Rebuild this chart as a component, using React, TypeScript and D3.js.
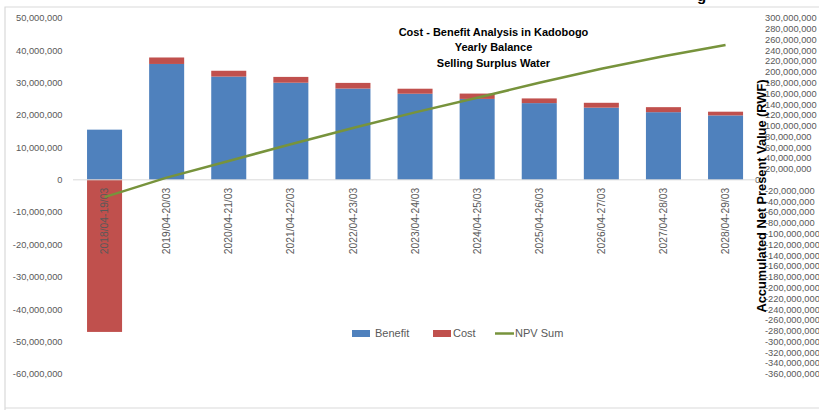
import React from 'react';
import * as d3 from 'd3';

const categories = [
  '2018/04-19/03', '2019/04-20/03', '2020/04-21/03', '2021/04-22/03', '2022/04-23/03',
  '2023/04-24/03', '2024/04-25/03', '2025/04-26/03', '2026/04-27/03', '2027/04-28/03', '2028/04-29/03',
];
const benefit = [15500000, 35800000, 31900000, 30000000, 28200000, 26600000, 25000000, 23700000, 22300000, 20900000, 19900000];
const cost = [-47000000, 2000000, 1800000, 1800000, 1750000, 1550000, 1650000, 1450000, 1500000, 1550000, 1150000];
const npvSum = [-32000000, 4000000, 35000000, 66000000, 96000000, 125000000, 152000000, 180000000, 206000000, 229000000, 250000000];

const leftTicks = [50000000, 40000000, 30000000, 20000000, 10000000, 0, -10000000, -20000000, -30000000, -40000000, -50000000, -60000000];
const titleLines = ['Cost - Benefit Analysis in Kadobogo', 'Yearly Balance', 'Selling Surplus Water'];
const rightTitle = 'Accumulated Net Present Value (RWF)';
const seriesNames = ['Benefit', 'Cost', 'NPV Sum'];

const W = 819, H = 410;
const BLUE = '#4F81BD', RED = '#C0504D', GREEN = '#77933C', GRAY = '#595959';
const FONT = '"Liberation Sans", Arial, sans-serif';

const fmt = d3.formatLocale({ decimal: '.', thousands: ',', grouping: [3], currency: ['', ''], minus: '-' }).format(',');

export default function App() {
  const x = d3.scaleBand<string>().domain(categories).range([73.5, 756.6]).paddingInner(0.436).paddingOuter(0.218);
  const yL = d3.scaleLinear().domain([-60000000, 50000000]).range([374, 18]);
  const yR = d3.scaleLinear().domain([-360000000, 300000000]).range([374, 18]);
  const rightTicks = d3.range(300000000, -360000001, -20000000);

  const rows = categories.map((c, i) => ({ cat: c, Benefit: benefit[i], Cost: cost[i] }));
  const stack = d3.stack<any>().keys(['Benefit', 'Cost']).offset(d3.stackOffsetDiverging);
  const stacked = stack(rows);
  const colors: Record<string, string> = { Benefit: BLUE, Cost: RED };

  const line = d3.line<number>()
    .x((_, i) => (x(categories[i]) as number) + x.bandwidth() / 2)
    .y((d) => yR(d));

  return (
    <svg width={W} height={H} style={{ position: 'absolute', left: 0, top: 0, background: '#fff' }} fontFamily={FONT}>
      <rect x={0} y={0} width={W} height={H} fill="#fff" />
      <text x={697} y={1} fontSize={15} fontWeight="bold" fill="#000">g</text>
      <path d={`M5,${H + 5} L5,7 L${W + 5},7`} fill="none" stroke="#D9D9D9" strokeWidth={1.2} />
      <line x1={5} x2={W} y1={408} y2={408} stroke="#D9D9D9" strokeWidth={1.2} />

      {/* left axis labels */}
      {leftTicks.map((t) => (
        <text key={t} x={62.5} y={yL(t)} dy="0.35em" textAnchor="end" fontSize={9.3} fill={GRAY}>{fmt(t)}</text>
      ))}
      {/* right axis labels */}
      {rightTicks.map((t) => (
        <text key={t} x={t === 0 ? 755 : 765} y={yR(t)} dy="0.35em" textAnchor="start" fontSize={9.3} fill={GRAY}>{fmt(t)}</text>
      ))}

      {/* bars */}
      {stacked.map((s) => (
        <g key={s.key} fill={colors[s.key]}>
          {s.map((d, i) => (
            <rect key={i} x={x(categories[i])} width={x.bandwidth()}
              y={yL(Math.max(d[0], d[1]))} height={Math.abs(yL(d[0]) - yL(d[1]))} />
          ))}
        </g>
      ))}

      {/* zero line */}
      <line x1={73} x2={756.6} y1={yL(0)} y2={yL(0)} stroke="#D9D9D9" strokeWidth={1} />

      {/* x labels */}
      {categories.map((c) => {
        const cx = (x(c) as number) + x.bandwidth() / 2;
        return (
          <text key={c} transform={`translate(${cx},${yL(0) + 8}) rotate(-90)`} dy="0.35em" textAnchor="end" fontSize={10.3} fill={GRAY}>{c}</text>
        );
      })}

      {/* NPV line */}
      <path d={line(npvSum) as string} fill="none" stroke={GREEN} strokeWidth={2.5} />

      {/* title */}
      {titleLines.map((t, i) => (
        <text key={t} x={493.5} y={32 + i * 15.5} dy="0.35em" textAnchor="middle" fontSize={11} fontWeight="bold" fill="#000">{t}</text>
      ))}

      {/* right axis title */}
      <text transform="translate(766,196) rotate(-90)" textAnchor="middle" fontSize={13} fontWeight="bold" fill="#000"
        textLength={233} lengthAdjust="spacingAndGlyphs">{rightTitle}</text>

      {/* legend */}
      <g fontSize={11} fill={GRAY}>
        <rect x={352} y={330} width={18} height={7} fill={BLUE} />
        <text x={375} y={333.5} dy="0.35em">{seriesNames[0]}</text>
        <rect x={433} y={330} width={18} height={7} fill={RED} />
        <text x={453} y={333.5} dy="0.35em">{seriesNames[1]}</text>
        <line x1={495} x2={514} y1={333.5} y2={333.5} stroke={GREEN} strokeWidth={2.5} />
        <text x={515} y={333.5} dy="0.35em">{seriesNames[2]}</text>
      </g>
    </svg>
  );
}
